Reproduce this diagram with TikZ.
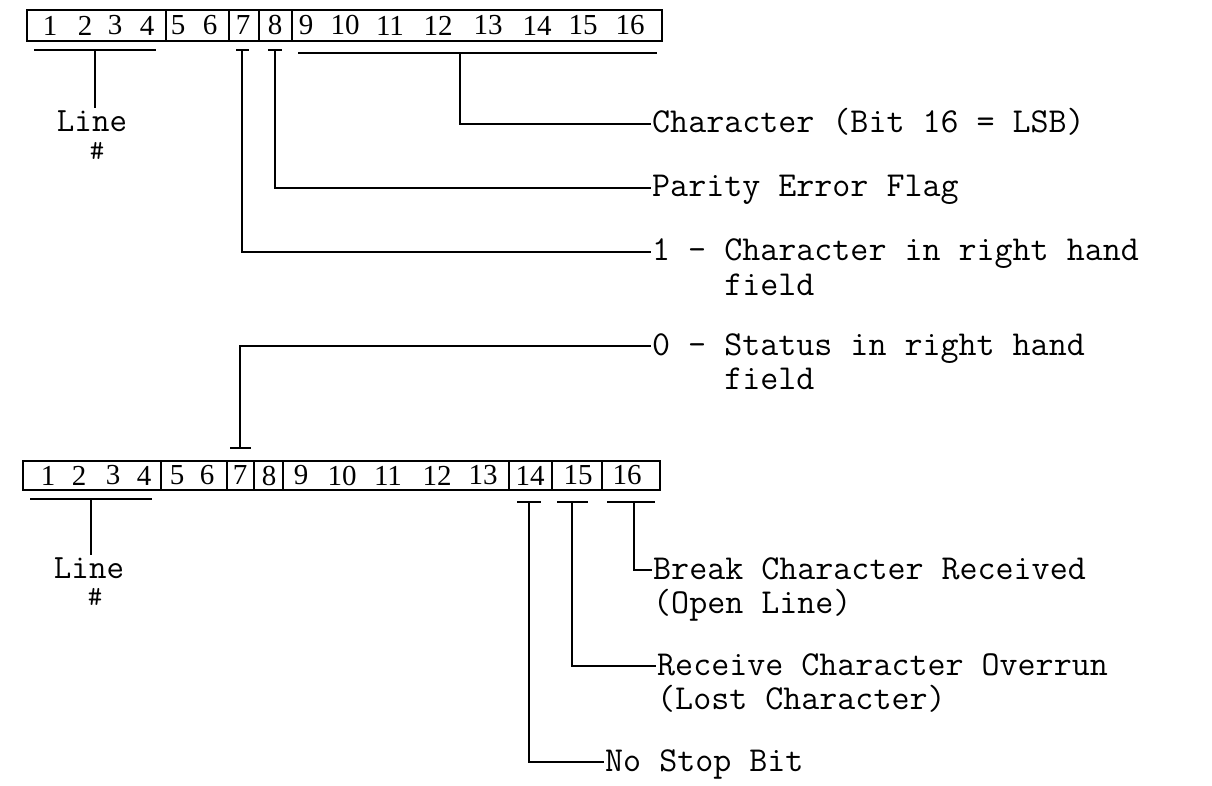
\documentclass[tikz,border=0pt]{standalone}
\usepackage{fontspec}
\newfontfamily\digfont{Liberation Serif}
\begin{document}
\begin{tikzpicture}[x=1pt,y=-1pt,
  reg/.style={line width=2pt},
  conn/.style={line width=2.8pt},
  dig/.style={font=\digfont\fontsize{29}{29}\selectfont, inner sep=0pt},
  lbl/.style={font=\ttfamily\fontsize{35}{32}\selectfont, anchor=west, inner xsep=1pt, inner ysep=0pt, text height=20pt, text depth=2pt},
  cont/.style={font=\ttfamily\fontsize{35}{32}\selectfont, anchor=base west, inner xsep=1pt, inner ysep=0pt, text height=20pt, text depth=2pt},
  linelbl/.style={font=\ttfamily\fontsize{34}{32}\selectfont, inner sep=0pt, text height=20pt, text depth=0pt},
  hashlbl/.style={font=\ttfamily\fontsize{28}{28}\selectfont, inner sep=0pt}]
\useasboundingbox (0,0) rectangle (1212,786);

% ---------- top register ----------
\draw[reg] (27,10) rectangle (662,41.5);
\foreach \x in {166,229,259,292} \draw[reg] (\x,10) -- (\x,41.5);
\foreach \n/\x in {1/50,2/85,3/115,4/147,5/178,6/210,7/243,8/275,9/306,10/345,11/390,12/438,13/488,14/537,15/583,16/630}
  \node[dig] (t\n) at (\x,25.5) {\n};

% ---------- bottom register ----------
\draw[reg] (23,461) rectangle (660,490);
\foreach \x in {161,227,254,283,509,552,602} \draw[reg] (\x,461) -- (\x,490);
\foreach \n/\x in {1/48,2/79,3/113,4/144,5/177,6/207,7/240,8/269,9/301,10/342,11/388,12/437,13/483,14/530,15/578,16/627}
  \node[dig] (b\n) at (\x,475.5) {\n};

% ---------- top brackets ----------
\coordinate (tl) at (95,50);
\draw[conn] (34,50) -- (156,50);
\node[linelbl] (tline) at (92,122) {Line};
\node[hashlbl] (thash) at (97,151) {\#};
\draw[conn] (tl) -- (95,108);

\coordinate (t7c) at (242,50);
\draw[conn] (236,50) -- (249,50);
\coordinate (t8c) at (275,50);
\draw[conn] (268,50) -- (282,50);
\coordinate (tcc) at (460,53);
\draw[conn] (298,53) -- (657,53);

\node[lbl] (lchar) at (651,124) {Character (Bit 16 = LSB)};
\node[lbl] (lpar) at (651,188) {Parity Error Flag};
\node[lbl] (lone) at (651,252) {1 - Character in right hand};
\node[cont] (lonef) at ([yshift=-34pt]lone.base west) {\phantom{1~-~}field};

\draw[conn] (tcc) |- (lchar.west);
\draw[conn] (t8c) |- (lpar.west);
\draw[conn] (t7c) |- (lone.west);

% ---------- status ----------
\coordinate (b7c) at (240,448);
\draw[conn] (230,448) -- (251,448);
\node[lbl] (lzero) at (651,346) {0 - Status in right hand};
\node[cont] (lzerof) at ([yshift=-34pt]lzero.base west) {\phantom{0~-~}field};
\draw[conn] (b7c) |- (lzero.west);

% ---------- bottom brackets ----------
\coordinate (bl) at (91,499);
\draw[conn] (30,499) -- (152,499);
\node[linelbl] (bline) at (89,568) {Line};
\node[hashlbl] (bhash) at (95,597) {\#};
\draw[conn] (bl) -- (91,555);

\coordinate (b14c) at (529,502);
\draw[conn] (517,502) -- (541,502);
\coordinate (b15c) at (572,502);
\draw[conn] (557,502) -- (588,502);
\coordinate (b16c) at (634,502);
\draw[conn] (607,502) -- (655,502);

\node[lbl] (lbrk) at (652,570) {Break Character Received};
\node[cont] (lbrk2) at ([yshift=-34pt]lbrk.base west) {(Open Line)};
\node[lbl] (lrcv) at (656,666) {Receive Character Overrun};
\node[cont] (lrcv2) at ([yshift=-34pt]lrcv.base west) {(Lost Character)};
\node[lbl] (lnsb) at (604,762) {No Stop Bit};

\draw[conn] (b16c) |- (lbrk.west);
\draw[conn] (b15c) |- (lrcv.west);
\draw[conn] (b14c) |- (lnsb.west);
\end{tikzpicture}
\end{document}
